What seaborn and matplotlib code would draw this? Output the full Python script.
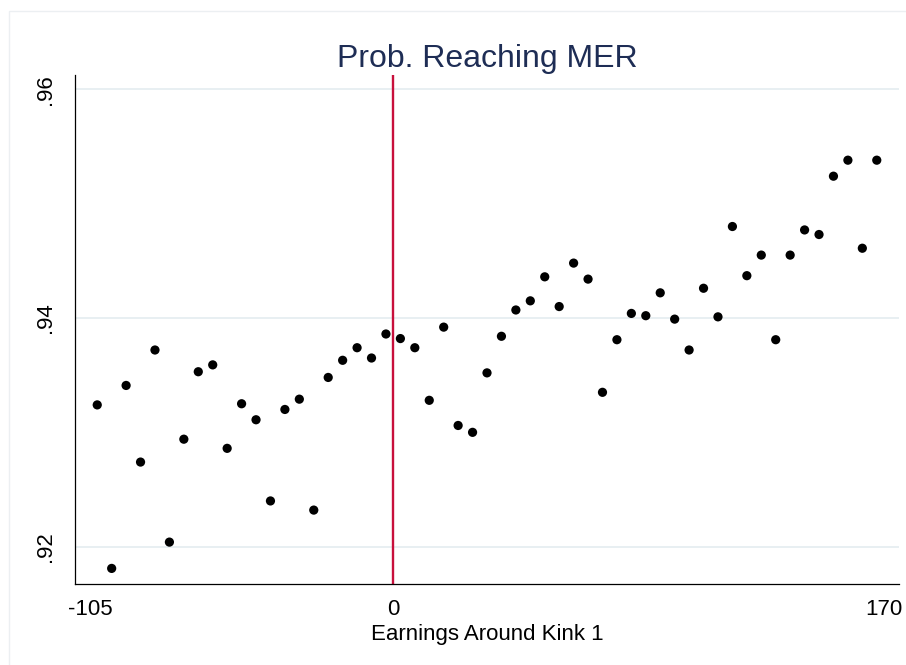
import numpy as np
import pandas as pd
import seaborn as sns
import matplotlib.pyplot as plt
from matplotlib.patches import Rectangle

# bin midpoints of earnings around the kink, and share reaching MER per bin
earnings = np.arange(-102.5, 170, 5)
prob_mer = [0.9324, 0.9181, 0.9341, 0.9274, 0.9372, 0.9204, 0.9294, 0.9353, 0.9359, 0.9286,
            0.9325, 0.9311, 0.9240, 0.9320, 0.9329, 0.9232, 0.9348, 0.9363, 0.9374, 0.9365,
            0.9386, 0.9382, 0.9374, 0.9328, 0.9392, 0.9306, 0.9300, 0.9352, 0.9384, 0.9407,
            0.9415, 0.9436, 0.9410, 0.9448, 0.9434, 0.9335, 0.9381, 0.9404, 0.9402, 0.9422,
            0.9399, 0.9372, 0.9426, 0.9401, 0.9480, 0.9437, 0.9455, 0.9381, 0.9455, 0.9477,
            0.9473, 0.9524, 0.9538, 0.9461, 0.9538]
x_ticks = [-105, 0, 170]
y_ticks = [0.92, 0.94, 0.96]
y_ticklabels = [".92", ".94", ".96"]

df = pd.DataFrame({"earnings": earnings, "prob": prob_mer})

sns.set_style("white")
plt.rcParams['font.family'] = ['Liberation Sans', 'DejaVu Sans']

fig = plt.figure(figsize=(9.06, 6.65), dpi=100)
ax = fig.add_axes([75 / 906, 1 - 584.3 / 665, (899 - 75) / 906, (584.3 - 75) / 665])

# light grid lines first
for yt in y_ticks:
    ax.axhline(yt, color='#e6eef1', lw=1.3, zorder=0)

ax.axvline(0, color='#c8103c', lw=1.7, zorder=1)
sns.scatterplot(data=df, x="earnings", y="prob", color='black', s=44,
                edgecolor='none', ax=ax, zorder=3)

ax.set_xlim(-110.2, 175.2)
ax.set_ylim(0.91671, 0.96125)
ax.set_xticks(x_ticks)
ax.set_xticklabels([str(t) for t in x_ticks])
ax.set_yticks(y_ticks)
ax.set_yticklabels(y_ticklabels, rotation=90, va='center')
ax.tick_params(axis='x', length=6.5, width=0.8, color='#333333', labelsize=16, pad=4,
               labelcolor='black')
ax.tick_params(axis='y', length=6.5, width=0.8, color='black', labelsize=16, pad=7,
               labelcolor='black')

for side in ['top', 'right']:
    ax.spines[side].set_visible(False)
for side in ['left', 'bottom']:
    ax.spines[side].set_color('black')
    ax.spines[side].set_linewidth(0.9)

ax.set_xlabel("Earnings Around Kink 1", fontsize=16, labelpad=3, color='black')
ax.set_ylabel("")
ax.set_title("Prob. Reaching MER", fontsize=23, color='#1e2d55', pad=6)

# faint outer graph-region border (cut off at right and bottom)
fig.add_artist(Rectangle((9 / 906, -0.1), 1.2, 1.1 - 11 / 665, transform=fig.transFigure,
                         fill=False, edgecolor='#eceff2', lw=1.0))

plt.savefig("out.png", dpi=100)
